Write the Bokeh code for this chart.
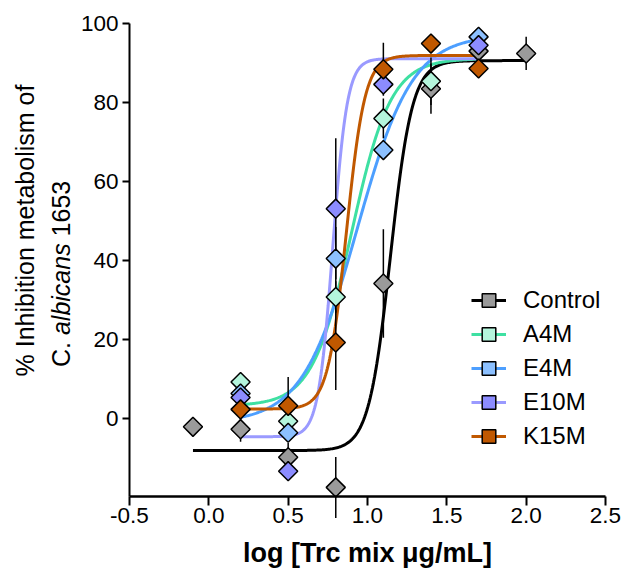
import numpy as np
from bokeh.plotting import figure
from bokeh.models import Range1d, FixedTicker, Label, Legend, LegendItem, PrintfTickFormatter
from bokeh.embed import file_html
from bokeh.resources import INLINE

# ---------------- data ----------------
series_names = ["Control", "A4M", "E4M", "E10M", "K15M"]

control_x = [-0.1, 0.2, 0.5, 0.8, 1.1, 1.4, 1.7, 2.0]
control_y = [-2.0, -2.6, -9.7, -17.3, 34.2, 83.4, 92.9, 92.3]
control_err = [0.0, 3.2, 3.6, 7.7, 13.7, 6.3, 5.0, 4.2]

a4m_x = [0.2, 0.5, 0.8, 1.1, 1.4]
a4m_y = [9.3, -0.6, 30.8, 75.9, 85.3]
a4m_err = [0.0, 0.0, 4.0, 5.0, 6.0]

e4m_x = [0.2, 0.5, 0.8, 1.1, 1.7]
e4m_y = [6.4, -3.5, 40.5, 67.9, 96.5]
e4m_err = [0.0, 0.0, 8.0, 0.0, 0.0]

e10m_x = [0.2, 0.5, 0.8, 1.1, 1.7]
e10m_y = [5.4, -13.2, 53.1, 84.5, 94.4]
e10m_err = [0.0, 0.0, 17.8, 0.0, 0.0]

k15m_x = [0.2, 0.5, 0.8, 1.1, 1.4, 1.7]
k15m_y = [2.4, 3.3, 19.3, 88.3, 94.8, 88.5]
k15m_err = [0.0, 7.3, 12.0, 6.7, 0.0, 0.0]

# fitted 4-parameter logistic curves (bottom, top, logEC50, Hill slope, x span)
fit_bottom = [-8.0, 3.3, -1.0, -4.5, 2.5]
fit_top = [90.5, 91.0, 97.0, 91.0, 91.8]
fit_logec50 = [1.145, 0.90, 0.935, 0.781, 0.867]
fit_hill = [6.3, 3.5, 2.5, 9.5, 7.4]
fit_xmin = [-0.1, 0.2, 0.2, 0.2, 0.2]
fit_xmax = [2.0, 1.7, 1.7, 1.7, 1.7]

x_ticks = [-0.5, 0.0, 0.5, 1.0, 1.5, 2.0, 2.5]
y_ticks = [0, 20, 40, 60, 80, 100]
x_axis_span = (-0.5, 2.5)
y_axis_span = (-19.6, 100)

# ---------------- styles / layout ----------------
marker_fill = ["#9a9a9a", "#b4f5dc", "#8cc0ff", "#8c8cff", "#c05800"]
line_color = ["#000000", "#3ee0a2", "#4d9fff", "#9a9aff", "#c05800"]

xs_all = [control_x, a4m_x, e4m_x, e10m_x, k15m_x]
ys_all = [control_y, a4m_y, e4m_y, e10m_y, k15m_y]
errs_all = [control_err, a4m_err, e4m_err, e10m_err, k15m_err]

FONT = "Liberation Sans"
W, H = 630, 569
AX_LEFT, AX_RIGHT, AX_TOP, AX_BOTTOM = 129.0, 605.0, 22.5, 496.0   # axes box in page pixels
pxx = (AX_RIGHT - AX_LEFT) / (x_axis_span[1] - x_axis_span[0])
pxy = (AX_BOTTOM - AX_TOP) / (y_axis_span[1] - y_axis_span[0])
xr = Range1d(x_axis_span[0] - AX_LEFT / pxx, x_axis_span[1] + (W - AX_RIGHT) / pxx)
yr = Range1d(y_axis_span[0] - (H - AX_BOTTOM) / pxy, y_axis_span[1] + AX_TOP / pxy)

p = figure(width=W, height=H, output_backend="svg", toolbar_location=None,
           x_range=xr, y_range=yr,
           min_border_left=0, min_border_right=0, min_border_top=0, min_border_bottom=0)
p.title.visible = False
p.background_fill_color = "white"
p.border_fill_color = "white"
p.outline_line_color = None
p.xgrid.visible = False
p.ygrid.visible = False

for ax, lw in ((p.xaxis[0], 2.5), (p.yaxis[0], 2)):
    ax.axis_line_width = lw
    ax.axis_line_color = "black"
    ax.major_tick_line_width = 2
    ax.major_tick_line_color = "black"
    ax.minor_tick_line_color = None
    ax.major_tick_in = 0
    ax.major_label_text_font = FONT
    ax.major_label_text_font_size = "22.5px"
    ax.major_label_text_color = "black"

p.xaxis[0].fixed_location = y_axis_span[0]
p.xaxis[0].bounds = x_axis_span
p.xaxis[0].ticker = FixedTicker(ticks=x_ticks)
p.xaxis[0].formatter = PrintfTickFormatter(format="%.1f")
p.xaxis[0].major_tick_out = 9
p.xaxis[0].major_label_standoff = 2

p.yaxis[0].fixed_location = x_axis_span[0]
p.yaxis[0].bounds = y_axis_span
p.yaxis[0].ticker = FixedTicker(ticks=y_ticks)
p.yaxis[0].major_tick_out = 7
p.yaxis[0].major_label_standoff = 4

# curves
curve_renderers = []
for i in range(5):
    xx = np.linspace(fit_xmin[i], fit_xmax[i], 300)
    yy = fit_bottom[i] + (fit_top[i] - fit_bottom[i]) / (1 + 10 ** ((fit_logec50[i] - xx) * fit_hill[i]))
    r = p.line(xx, yy, line_color=line_color[i], line_width=3)
    curve_renderers.append(r)

# error bars
for i in range(5):
    ex, ey0, ey1 = [], [], []
    for x, y, e in zip(xs_all[i], ys_all[i], errs_all[i]):
        if e > 0:
            ex.append(x); ey0.append(y - e); ey1.append(y + e)
    if ex:
        p.segment(ex, ey0, ex, ey1, line_color="black", line_width=1.5)

# markers
marker_renderers = []
for i in range(5):
    r = p.scatter(xs_all[i], ys_all[i], marker="square", angle=np.pi / 4, size=13.5,
                  fill_color=marker_fill[i], line_color="black", line_width=1.5)
    marker_renderers.append(r)

items = [LegendItem(label=series_names[i], renderers=[curve_renderers[i], marker_renderers[i]])
         for i in range(5)]
legend = Legend(items=items, location=(471, 116), border_line_color=None,
                background_fill_alpha=0, padding=0, margin=0, spacing=0,
                glyph_width=35, glyph_height=34, label_height=34, label_standoff=17,
                label_text_font=FONT, label_text_font_size="24px", label_text_color="black")
p.add_layout(legend)

# x axis title
p.add_layout(Label(x=(AX_LEFT + AX_RIGHT) / 2, y=H - 552, x_units="screen", y_units="screen",
                   text="log [Trc mix \u03bcg/mL]", text_align="center", text_baseline="alphabetic",
                   text_font=FONT, text_font_style="bold", text_font_size="27px",
                   text_color="black", level="overlay"))

# y axis title (two lines, species name in italics)
YF = 25.0
em = YF / 1000.0
w_c = (722 + 278) * em
w_sp = 278 * em
w_alb = 3668 * em
w_num = 2224 * em
total = w_c + w_sp + w_alb + w_sp + w_num
line1_center = 230.0
line2_center = 273.4
start = H - (line2_center + total / 2)

p.add_layout(Label(x=24, y=H - line1_center, x_units="screen", y_units="screen",
                   text="% Inhibition metabolism of", angle=np.pi / 2, text_align="center",
                   text_baseline="alphabetic", text_font=FONT, text_font_size=f"{YF}px",
                   text_color="black", level="overlay"))
pieces = [("C.", "normal", start),
          ("albicans", "italic", start + w_c + w_sp),
          ("1653", "normal", start + w_c + w_sp + w_alb + w_sp)]
for txt, style, yy in pieces:
    p.add_layout(Label(x=60, y=yy, x_units="screen", y_units="screen", text=txt,
                       angle=np.pi / 2, text_align="left", text_baseline="alphabetic",
                       text_font=FONT, text_font_style=style, text_font_size=f"{YF}px",
                       text_color="black", level="overlay"))

open("out.html", "w").write(file_html(p, INLINE))
